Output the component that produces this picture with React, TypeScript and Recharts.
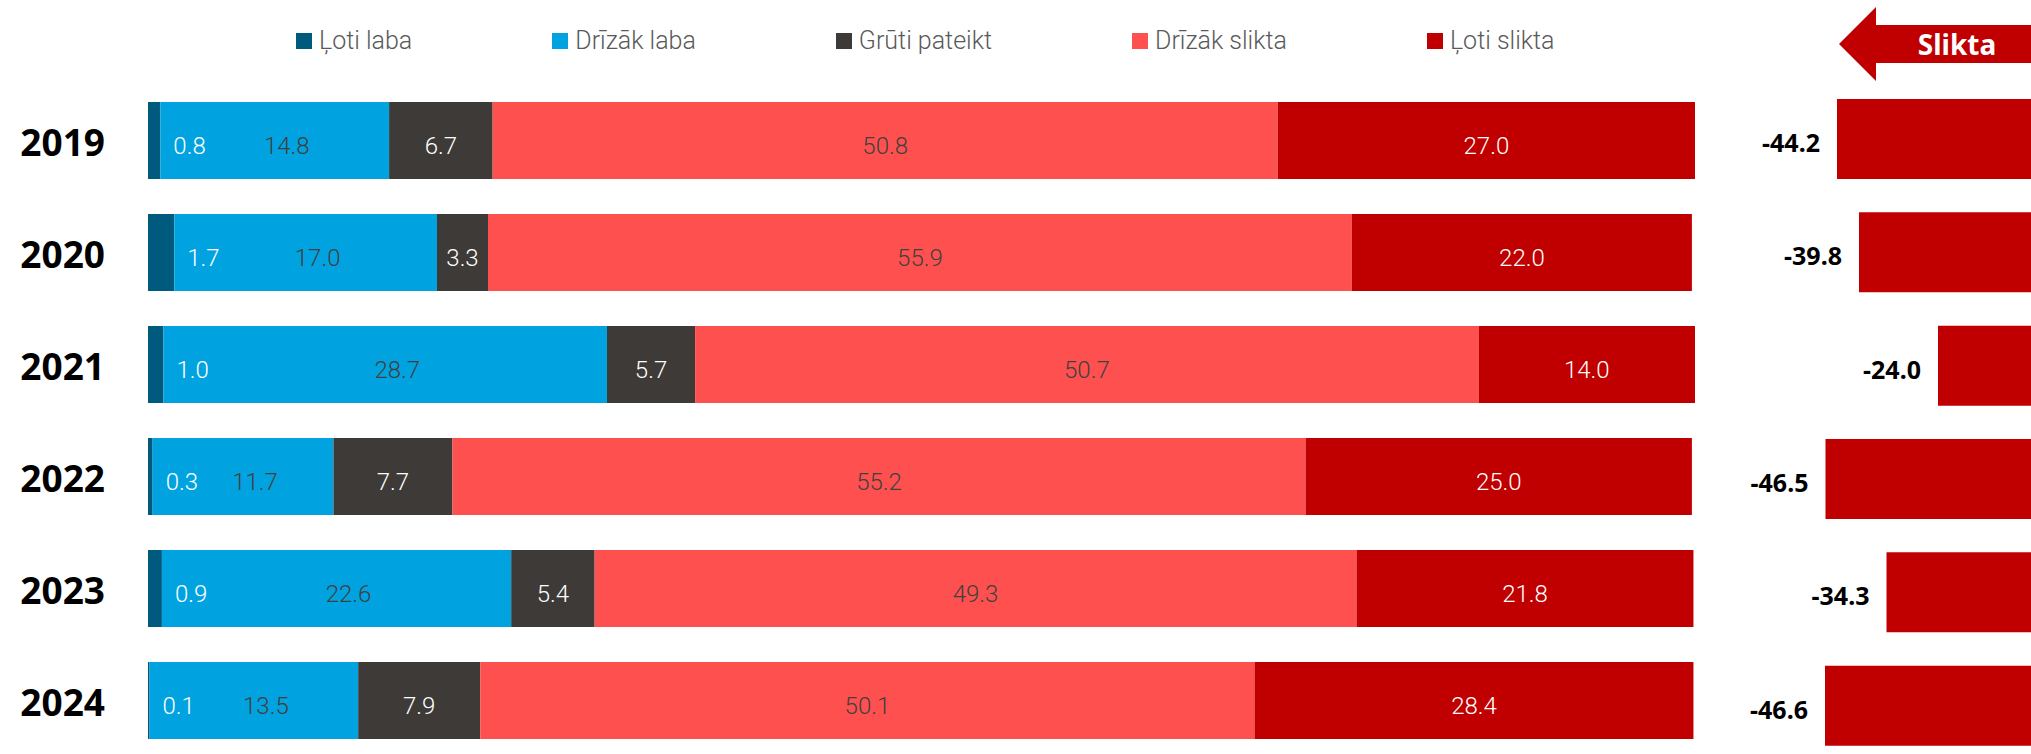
import React from 'react';
import { BarChart, Bar, XAxis, YAxis, LabelList } from 'recharts';

const years = ['2019', '2020', '2021', '2022', '2023', '2024'];
const lotiLaba = [0.8, 1.7, 1.0, 0.3, 0.9, 0.1];
const drizakLaba = [14.8, 17.0, 28.7, 11.7, 22.6, 13.5];
const grutiPateikt = [6.7, 3.3, 5.7, 7.7, 5.4, 7.9];
const drizakSlikta = [50.8, 55.9, 50.7, 55.2, 49.3, 50.1];
const lotiSlikta = [27.0, 22.0, 14.0, 25.0, 21.8, 28.4];
const netBalance = [-44.2, -39.8, -24.0, -46.5, -34.3, -46.6];
const seriesNames = ['Ļoti laba', 'Drīzāk laba', 'Grūti pateikt', 'Drīzāk slikta', 'Ļoti slikta'];
const arrowLabel = 'Slikta';

const seriesKeys = ['s0', 's1', 's2', 's3', 's4'];
const seriesColors = ['#005A7D', '#00A3E0', '#3D3A38', '#FF5050', '#C00000'];
const labelColors = ['#FFFFFF', '#404040', '#FFFFFF', '#404040', '#FFFFFF'];
const seriesValues = [lotiLaba, drizakLaba, grutiPateikt, drizakSlikta, lotiSlikta];

const data = years.map((year, i) => {
  const row: any = { year, net: netBalance[i] };
  seriesKeys.forEach((k, j) => {
    row[k] = seriesValues[j][i];
  });
  return row;
});

const LABEL_FONT = 'Roboto, "Noto Sans", sans-serif';
const BOLD_FONT = '"Noto Sans", "Open Sans", sans-serif';

const makeLabel = (idx: number) => (props: any) => {
  const x = Number(props.x);
  const y = Number(props.y);
  const w = Number(props.width);
  const h = Number(props.height);
  const v = Number(props.value);
  let tx = x + w / 2;
  let anchor: 'start' | 'middle' | 'end' = 'middle';
  if (idx === 0) {
    tx = x + w + 13;
    anchor = 'start';
  } else if (idx === 1) {
    tx = x + w / 2 + 12;
  }
  return (
    <text
      x={tx}
      y={y + h / 2 + 13}
      textAnchor={anchor}
      fill={labelColors[idx]}
      fontSize={24}
      fontWeight={300}
      fontFamily={LABEL_FONT}
    >
      {v.toFixed(1)}
    </text>
  );
};

const NetLabel = (props: any) => {
  const x = Number(props.x);
  const w = Number(props.width);
  const y = Number(props.y);
  const h = Number(props.height);
  const left = Math.min(x, x + w);
  return (
    <text
      x={left - 17}
      y={y + h / 2 + 13}
      textAnchor="end"
      fill="#000"
      fontSize={25}
      fontWeight={700}
      fontFamily={BOLD_FONT}
    >
      {Number(props.value).toFixed(1)}
    </text>
  );
};

const YearTick = (props: any) => {
  const { x, y, payload } = props;
  return (
    <text
      x={x}
      y={y}
      dy={16}
      textAnchor="end"
      fill="#000"
      fontSize={37}
      fontWeight={700}
      fontFamily={BOLD_FONT}
    >
      {payload.value}
    </text>
  );
};

export default function App() {
  return (
    <div
      style={{
        position: 'absolute',
        left: 0,
        top: 0,
        width: 2031,
        height: 754,
        overflow: 'hidden',
        background: '#fff',
      }}
    >
      {/* Legend */}
      <div
        style={{
          position: 'absolute',
          left: 296,
          top: 27,
          display: 'flex',
          alignItems: 'center',
          gap: 140,
          fontFamily: LABEL_FONT,
          fontWeight: 300,
          fontSize: 25,
          color: '#595959',
          whiteSpace: 'nowrap',
        }}
      >
        {seriesNames.map((n, i) => (
          <div key={n} style={{ display: 'flex', alignItems: 'center' }}>
            <div style={{ width: 16, height: 16, background: seriesColors[i], marginRight: 7 }} />
            <span style={{ lineHeight: '28px' }}>{n}</span>
          </div>
        ))}
      </div>

      {/* Main stacked chart */}
      <div style={{ position: 'absolute', left: 0, top: 0 }}>
        <BarChart
          width={1700}
          height={760}
          data={data}
          layout="vertical"
          margin={{ top: 84, right: 5, bottom: 4, left: 0 }}
        >
          <XAxis type="number" domain={[0, 100.1]} hide allowDataOverflow />
          <YAxis
            type="category"
            dataKey="year"
            width={148}
            axisLine={false}
            tickLine={false}
            tickSize={0}
            tickMargin={43}
            tick={<YearTick />}
          />
          {seriesKeys.map((k, i) => (
            <Bar
              key={k}
              dataKey={k}
              name={seriesNames[i]}
              stackId="a"
              fill={seriesColors[i]}
              barSize={77}
              isAnimationActive={false}
            >
              <LabelList dataKey={k} content={makeLabel(i)} />
            </Bar>
          ))}
        </BarChart>
      </div>

      {/* Net balance chart */}
      <div style={{ position: 'absolute', left: 1658, top: 0 }}>
        <BarChart
          width={400}
          height={770}
          data={data}
          layout="vertical"
          margin={{ top: 82, right: 0, bottom: 8, left: 0 }}
        >
          <XAxis type="number" domain={[-80, 0]} hide allowDataOverflow />
          <YAxis type="category" dataKey="year" hide />
          <Bar dataKey="net" fill="#C00000" barSize={80} isAnimationActive={false}>
            <LabelList dataKey="net" content={<NetLabel />} />
          </Bar>
        </BarChart>
      </div>

      {/* Arrow annotation */}
      <svg
        width={2031}
        height={100}
        style={{ position: 'absolute', left: 0, top: 0, pointerEvents: 'none' }}
      >
        <polygon
          points="1839,44 1876,7 1876,25 2031,25 2031,63 1876,63 1876,81"
          fill="#C00000"
        />
        <text
          x={1957}
          y={55}
          textAnchor="middle"
          fill="#fff"
          fontSize={28}
          fontWeight={700}
          fontFamily={BOLD_FONT}
        >
          {arrowLabel}
        </text>
      </svg>
    </div>
  );
}
